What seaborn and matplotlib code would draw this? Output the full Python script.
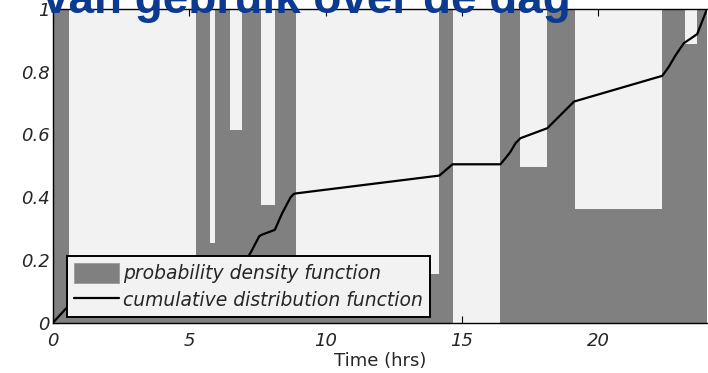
import matplotlib
matplotlib.use("Agg")
import matplotlib.pyplot as plt
import seaborn as sns
import numpy as np
from matplotlib.patches import Patch
from matplotlib.lines import Line2D

# ---- data ----
bin_edges = [0, 0.59, 5.25, 5.75, 5.96, 6.51, 6.95, 7.65, 8.14, 8.90,
             13.8, 14.18, 14.68, 16.42, 17.12, 18.14, 19.14, 22.36, 23.21, 23.64, 24]
pdf_heights = [1, 0.02, 1, 0.255, 1, 0.614, 1, 0.375, 1, 0.11,
               0.154, 1, 0, 1, 0.495, 1, 0.362, 1, 0.887, 1]

cdf_hours = [0, 0.59, 5.25, 5.75, 5.96, 6.51, 6.95, 7.27, 7.57, 7.65, 8.14, 8.41,
             8.72, 8.83, 8.90, 14.18, 14.66, 16.42, 16.60, 16.79, 16.97, 17.15,
             18.14, 19.12, 22.36, 22.60, 22.85, 23.15, 23.27, 23.64, 24]
cdf_values = [0, 0.056, 0.066, 0.105, 0.11, 0.155, 0.18, 0.226, 0.276, 0.28, 0.296, 0.349,
              0.40, 0.41, 0.412, 0.469, 0.505, 0.505, 0.524, 0.545, 0.572, 0.588,
              0.62, 0.705, 0.787, 0.816, 0.853, 0.891, 0.898, 0.92, 1.0]

x_ticks = [0, 5, 10, 15, 20]
y_ticks = [0, 0.2, 0.4, 0.6, 0.8, 1]
y_ticklabels = ["0", "0.2", "0.4", "0.6", "0.8", "1"]
legend_labels = ["probability density function", "cumulative distribution function"]
title_text = "van gebruik over de dag"
xlabel_text = "Time (hrs)"

# ---- styling ----
sns.set_theme(style="white")
plt.rcParams["font.family"] = ["DejaVu Sans"]

W, H = 708, 373
fig = plt.figure(figsize=(W / 100, H / 100), dpi=100)
ax_left, ax_right, ax_top, ax_bottom = 53, 707, 9, 322.7
ax = fig.add_axes([ax_left / W, (H - ax_bottom) / H,
                   (ax_right - ax_left) / W, (ax_bottom - ax_top) / H])
ax.set_facecolor("#f2f2f2")

mids = [(a + b) / 2 for a, b in zip(bin_edges[:-1], bin_edges[1:])]
sns.histplot(x=mids, weights=pdf_heights, bins=bin_edges, stat="count",
             color="#808080", alpha=1, linewidth=0, ax=ax)
sns.lineplot(x=cdf_hours, y=cdf_values, color="black", linewidth=1.6,
             estimator=None, sort=False, ax=ax)

ax.set_xlim(0, 24)
ax.set_ylim(0, 1)
ax.set_xticks(x_ticks)
ax.set_xticklabels([str(t) for t in x_ticks], fontsize=13, style="italic")
ax.set_yticks(y_ticks)
ax.set_yticklabels(y_ticklabels, fontsize=13, style="italic")
ax.tick_params(axis="both", direction="in", length=5, width=0.8, color="black",
               top=True, right=False, left=True, bottom=True)
ax.tick_params(axis="x", pad=7)
ax.tick_params(axis="y", pad=2.5)
ax.set_ylabel("")
ax.set_xlabel(xlabel_text, fontsize=13, labelpad=1)

for side in ["left", "bottom", "top"]:
    ax.spines[side].set_visible(True)
    ax.spines[side].set_color("black")
    ax.spines[side].set_linewidth(1.0)
ax.spines["right"].set_visible(False)

handles = [Patch(facecolor="#808080", edgecolor="#9a9a9a", linewidth=0.6),
           Line2D([0], [0], color="black", linewidth=1.6)]
leg = ax.legend(handles, legend_labels, loc="lower left",
                bbox_to_anchor=(0.021, 0.0172), borderaxespad=0,
                prop={"size": 13.5, "style": "italic"},
                handlelength=2.4, handleheight=1.23, handletextpad=0.2,
                borderpad=0.4, labelspacing=0.35,
                frameon=True, fancybox=False, framealpha=1,
                facecolor="#f2f2f2", edgecolor="black")
leg.get_frame().set_linewidth(1.4)

fig.text(43 / W, 1 - 13 / H, title_text, fontsize=33, fontweight="bold",
         family="Liberation Sans", color="#0c3a91", ha="left", va="baseline",
         zorder=10)

fig.savefig("out.png", dpi=100)
